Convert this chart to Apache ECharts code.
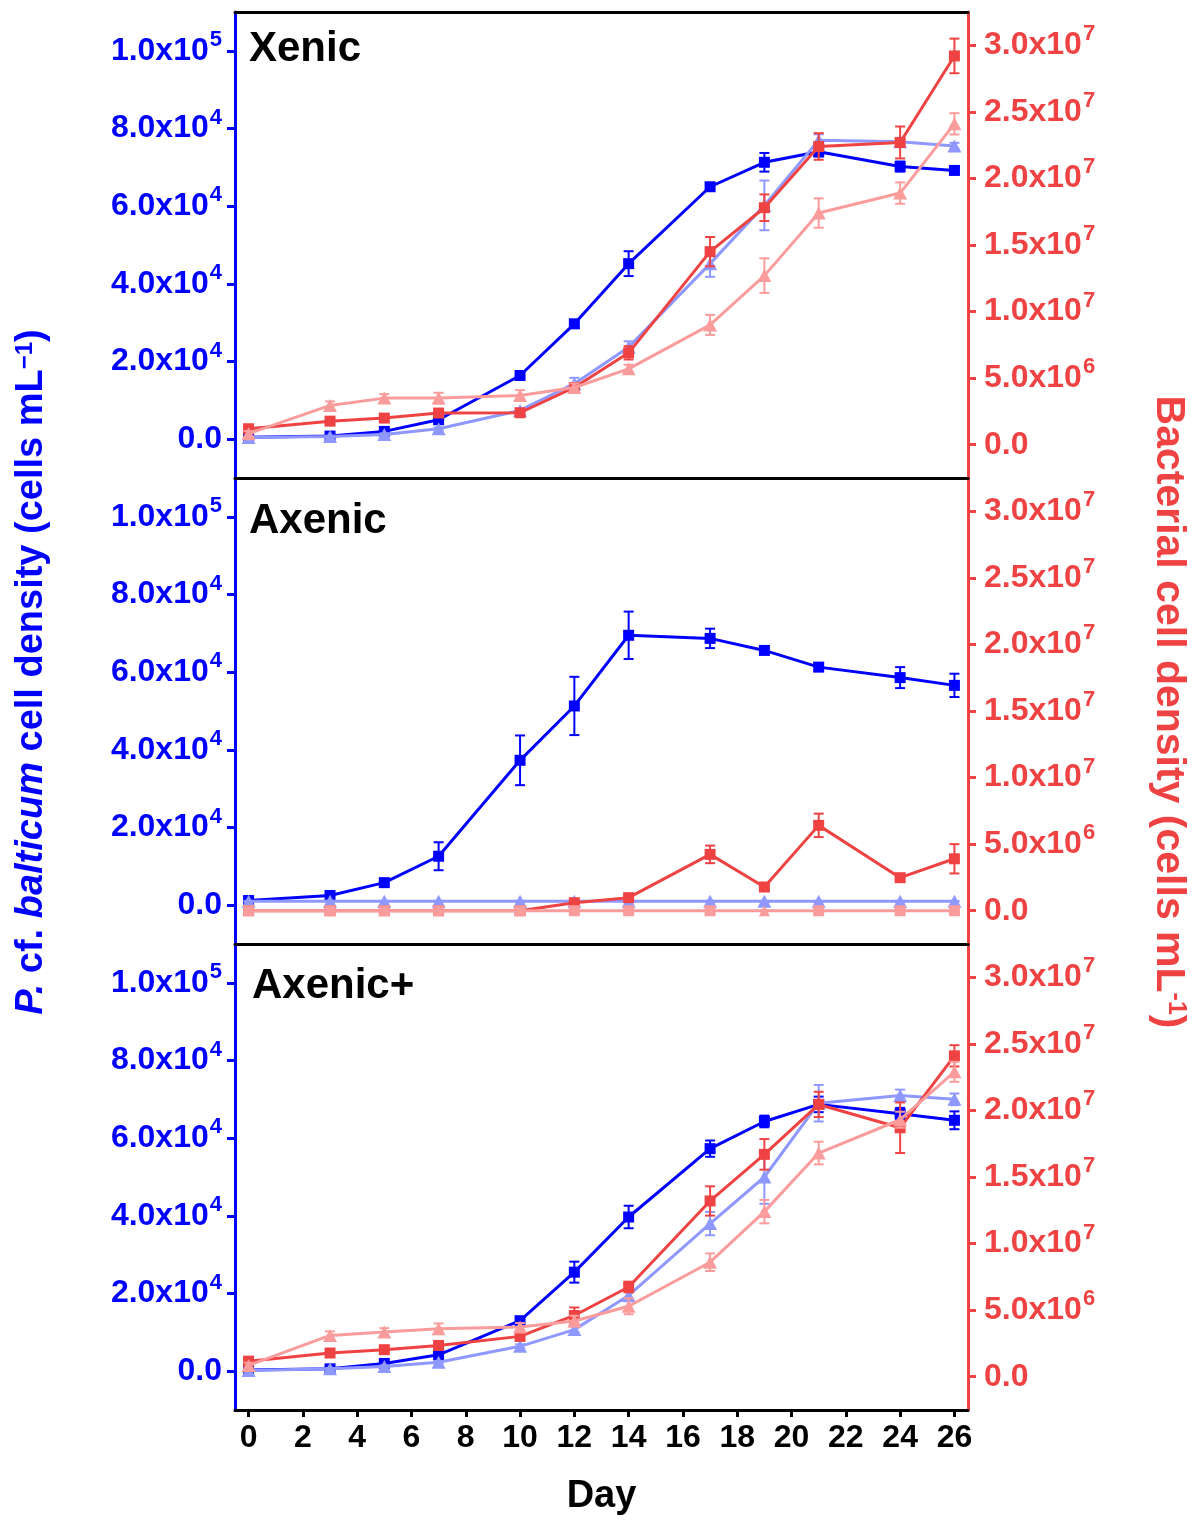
<!DOCTYPE html>
<html>
<head>
<meta charset="utf-8">
<script src="https://cdn.jsdelivr.net/npm/echarts@6/dist/echarts.min.js"></script>
<style>
html,body{margin:0;padding:0;background:#fff;}
#chart{width:1197px;height:1524px;}
</style>
</head>
<body>
<div id="chart"></div>
<script>
// ---------- data ----------
const days = [0, 3, 5, 7, 10, 12, 14, 17, 19, 21, 24, 26];
const dayTicks = [0, 2, 4, 6, 8, 10, 12, 14, 16, 18, 20, 22, 24, 26];
const algaeTicks = [0, 20000, 40000, 60000, 80000, 100000];
const bactTicks = [0, 5e6, 1e7, 1.5e7, 2e7, 2.5e7, 3e7];
const panelNames = ['Xenic', 'Axenic', 'Axenic+'];

// Xenic
const xenicAlgaeSq = [500, 800, 2000, 5000, 16400, 29700, 45200, 65000, 71300, 74000, 70200, 69200];
const xenicAlgaeSqErr = [300, 300, 300, 300, 600, 1000, 3200, 800, 2400, 1200, 1300, 800];
const xenicAlgaeTri = [400, 700, 1200, 2700, 7400, 14300, 23700, 45200, 60200, 77000, 76600, 75500];
const xenicAlgaeTriErr = [200, 200, 300, 300, 500, 1500, 1500, 3400, 6400, 1500, 1000, 800];
const xenicBactSq = [1.2e6, 1.77e6, 2.0e6, 2.38e6, 2.4e6, 4.3e6, 6.9e6, 1.45e7, 1.78e7, 2.24e7, 2.27e7, 2.92e7];
const xenicBactSqErr = [2e5, 1e5, 1.5e5, 2e5, 2e5, 3e5, 5e5, 1.1e6, 1.0e6, 1.0e6, 1.2e6, 1.3e6];
const xenicBactTri = [0.83e6, 2.95e6, 3.5e6, 3.5e6, 3.7e6, 4.3e6, 5.7e6, 9.0e6, 1.27e7, 1.74e7, 1.89e7, 2.41e7];
const xenicBactTriErr = [2e5, 3e5, 3e5, 4e5, 4e5, 3e5, 3e5, 7.5e5, 1.3e6, 1.1e6, 8e5, 8e5];

// Axenic
const axenicAlgaeSq = [1200, 2500, 5800, 12600, 37300, 51300, 69500, 68700, 65600, 61300, 58600, 56600];
const axenicAlgaeSqErr = [300, 400, 500, 3600, 6400, 7500, 6100, 2500, 700, 1000, 2700, 3000];
const axenicAlgaeTri = [1000, 1000, 1000, 1000, 1000, 1000, 1000, 1000, 1000, 1000, 1000, 1000];
const axenicAlgaeTriErr = [100, 100, 100, 100, 100, 100, 100, 100, 100, 100, 100, 100];
const axenicBactSq = [0, 0, 0, 0, 0, 0.6e6, 0.98e6, 4.23e6, 1.78e6, 6.41e6, 2.48e6, 3.9e6];
const axenicBactSqErr = [0, 0, 0, 0, 0, 2e5, 2e5, 6.6e5, 2e5, 8.8e5, 2e5, 1.1e6];
const axenicBactTri = [0, 0, 0, 0, 0, 0, 0, 0, 0, 0, 0, 0];
const axenicBactTriErr = [0, 0, 0, 0, 0, 0, 0, 0, 0, 0, 0, 0];

// Axenic+
const plusAlgaeSq = [300, 600, 2000, 4200, 13000, 25500, 39700, 57300, 64300, 68700, 66300, 64600];
const plusAlgaeSqErr = [200, 200, 300, 400, 800, 2700, 2900, 2100, 1500, 2000, 1500, 2300];
const plusAlgaeTri = [200, 600, 1200, 2300, 6400, 10700, 19500, 38000, 50000, 69000, 71000, 70000];
const plusAlgaeTriErr = [200, 200, 300, 300, 500, 800, 1500, 3000, 6900, 4700, 1500, 1500];
const plusBactSq = [1.17e6, 1.78e6, 2.03e6, 2.35e6, 3.03e6, 4.6e6, 6.74e6, 1.32e7, 1.67e7, 2.045e7, 1.87e7, 2.41e7];
const plusBactSqErr = [2e5, 2e5, 2e5, 2e5, 3e5, 6e5, 4e5, 1.1e6, 1.15e6, 9.5e5, 1.9e6, 8e5];
const plusBactTri = [0.85e6, 3.1e6, 3.35e6, 3.6e6, 3.73e6, 4.18e6, 5.29e6, 8.6e6, 1.24e7, 1.68e7, 1.93e7, 2.29e7];
const plusBactTriErr = [2e5, 3e5, 3e5, 4e5, 3e5, 4e5, 6e5, 6.6e5, 8.8e5, 8.5e5, 6e5, 7.5e5];

// ---------- styling ----------
const BLUE = '#0000ff', LBLUE = '#8e98ff', RED = '#ef4343', PINK = '#fa9c9c';
const FONT = "Arial, 'Liberation Sans', Helvetica, sans-serif";

const panels = [
  {algaeSq: xenicAlgaeSq, algaeSqErr: xenicAlgaeSqErr, algaeTri: xenicAlgaeTri, algaeTriErr: xenicAlgaeTriErr,
   bactSq: xenicBactSq, bactSqErr: xenicBactSqErr, bactTri: xenicBactTri, bactTriErr: xenicBactTriErr},
  {algaeSq: axenicAlgaeSq, algaeSqErr: axenicAlgaeSqErr, algaeTri: axenicAlgaeTri, algaeTriErr: axenicAlgaeTriErr,
   bactSq: axenicBactSq, bactSqErr: axenicBactSqErr, bactTri: axenicBactTri, bactTriErr: axenicBactTriErr},
  {algaeSq: plusAlgaeSq, algaeSqErr: plusAlgaeSqErr, algaeTri: plusAlgaeTri, algaeTriErr: plusAlgaeTriErr,
   bactSq: plusBactSq, bactSqErr: plusBactSqErr, bactTri: plusBactTri, bactTriErr: plusBactTriErr}
];

const gridTops = [12, 478, 944];
const gridH = 466;
const titleOffsets = [16, 22, 21];

function sciFmt(v) {
  if (v === 0) return '{b|0.0}';
  const e = Math.floor(Math.log10(v) + 1e-9);
  const m = (v / Math.pow(10, e)).toFixed(1);
  return '{b|' + m + 'x10}{s|' + e + '}';
}
function richFor(color) {
  return {
    b: {fontSize: 32, fontWeight: 'bold', color: color, fontFamily: FONT, lineHeight: 44},
    s: {fontSize: 22, fontWeight: 'bold', color: color, fontFamily: FONT, verticalAlign: 'top', lineHeight: 22, padding: [0, 0, 0, 1]}
  };
}

const grids = [], xAxes = [], yAxes = [], series = [], titles = [];

function errRender(params, api) {
  const x = api.value(0), lo = api.value(1), hi = api.value(2);
  const p1 = api.coord([x, lo]), p2 = api.coord([x, hi]);
  const w = 5;
  const style = {stroke: api.visual('color'), lineWidth: 2};
  return {type: 'group', children: [
    {type: 'line', shape: {x1: p1[0], y1: p1[1], x2: p2[0], y2: p2[1]}, style: style},
    {type: 'line', shape: {x1: p1[0] - w, y1: p1[1], x2: p1[0] + w, y2: p1[1]}, style: style},
    {type: 'line', shape: {x1: p2[0] - w, y1: p2[1], x2: p2[0] + w, y2: p2[1]}, style: style}
  ]};
}

panels.forEach((p, g) => {
  grids.push({left: 235, right: 229, top: gridTops[g], height: gridH, containLabel: false});
  const last = g === 2;
  xAxes.push({
    type: 'value', gridIndex: g, min: -0.5, max: 26.5, position: 'bottom',
    axisLine: {show: true, onZero: false, lineStyle: {color: '#000', width: 3}},
    axisTick: {show: last, inside: false, length: 7, lineStyle: {color: '#000', width: 3}, customValues: dayTicks},
    axisLabel: {show: last, customValues: dayTicks, color: '#000', fontSize: 32, fontWeight: 'bold', fontFamily: FONT, margin: 12},
    splitLine: {show: false},
    name: last ? 'Day' : '', nameLocation: 'middle', nameGap: 68,
    nameTextStyle: {fontSize: 38, fontWeight: 'bold', color: '#000', fontFamily: FONT}
  });
  yAxes.push({
    type: 'value', gridIndex: g, min: -10000, max: 110000, position: 'left',
    axisLine: {show: true, onZero: false, lineStyle: {color: BLUE, width: 3}},
    axisTick: {show: true, inside: false, length: 8, lineStyle: {color: BLUE, width: 3}, customValues: algaeTicks},
    axisLabel: {customValues: algaeTicks, formatter: sciFmt, rich: richFor(BLUE), margin: 13, align: 'right'},
    splitLine: {show: false}
  });
  yAxes.push({
    type: 'value', gridIndex: g, min: -2.5e6, max: 3.25e7, position: 'right',
    axisLine: {show: true, onZero: false, lineStyle: {color: RED, width: 3}},
    axisTick: {show: true, inside: false, length: 8, lineStyle: {color: RED, width: 3}, customValues: bactTicks},
    axisLabel: {customValues: bactTicks, formatter: sciFmt, rich: richFor(RED), margin: 16, align: 'left'},
    splitLine: {show: false}
  });
  titles.push({text: panelNames[g], left: g === 2 ? 252 : 249, top: gridTops[g] + titleOffsets[g], padding: 0,
    textStyle: {fontSize: 42, fontWeight: 'bold', color: '#000', fontFamily: FONT}});

  const la = 2 * g, ra = 2 * g + 1;
  const defs = [
    {vals: p.algaeSq, errs: p.algaeSqErr, y: la, color: BLUE, symbol: 'rect', size: 11},
    {vals: p.algaeTri, errs: p.algaeTriErr, y: la, color: LBLUE, symbol: 'triangle', size: [14, 13]},
    {vals: p.bactSq, errs: p.bactSqErr, y: ra, color: RED, symbol: 'rect', size: 11},
    {vals: p.bactTri, errs: p.bactTriErr, y: ra, color: PINK,
     symbol: g === 1 ? function (v, prm) { return prm.dataIndex === 8 ? 'triangle' : 'rect'; } : 'triangle',
     size: g === 1 ? 11 : [14, 13]}
  ];
  defs.forEach((d, k) => {
    series.push({
      type: 'custom', coordinateSystem: 'cartesian2d', xAxisIndex: g, yAxisIndex: d.y,
      renderItem: errRender, itemStyle: {color: d.color}, z: 2 + k * 2, silent: true,
      encode: {x: 0, y: [1, 2]},
      data: days.map((x, i) => [x, d.vals[i] - d.errs[i], d.vals[i] + d.errs[i]])
    });
    series.push({
      type: 'line', xAxisIndex: g, yAxisIndex: d.y, z: 3 + k * 2,
      symbol: d.symbol, symbolSize: d.size, showSymbol: true,
      itemStyle: {color: d.color}, lineStyle: {color: d.color, width: 3},
      data: days.map((x, i) => [x, d.vals[i]])
    });
  });
});

// top frame line of first panel
xAxes.push({
  type: 'value', gridIndex: 0, min: -0.5, max: 26.5, position: 'top',
  axisLine: {show: true, onZero: false, lineStyle: {color: '#000', width: 3}},
  axisTick: {show: false}, axisLabel: {show: false}, splitLine: {show: false}
});

const option = {
  animation: false,
  backgroundColor: '#fff',
  title: titles,
  grid: grids,
  xAxis: xAxes,
  yAxis: yAxes,
  series: series,
  graphic: [
    {type: 'text', x: 32, y: 672, rotation: Math.PI / 2,
     style: {text: '{i|P.} cf. {i|balticum} cell density (cells mL{s|\u22121})', align: 'center', verticalAlign: 'middle',
       fill: BLUE, fontSize: 38, fontWeight: 'bold', fontFamily: FONT,
       rich: {
         i: {fontStyle: 'italic', fontWeight: 'bold', fontSize: 38, fill: BLUE, color: BLUE, fontFamily: FONT},
         s: {fontWeight: 'bold', fontSize: 24, fill: BLUE, color: BLUE, fontFamily: FONT, verticalAlign: 'top'}
       }}},
    {type: 'text', x: 1168, y: 712, rotation: -Math.PI / 2,
     style: {text: 'Bacterial cell density (cells mL{s|-1})', align: 'center', verticalAlign: 'middle',
       fill: RED, fontSize: 41, fontWeight: 'bold', fontFamily: FONT,
       rich: {
         s: {fontWeight: 'bold', fontSize: 25, fill: RED, color: RED, fontFamily: FONT, verticalAlign: 'top'}
       }}}
  ]
};

const chart = echarts.init(document.getElementById('chart'), null, {renderer: 'canvas'});
chart.setOption(option);
</script>
</body>
</html>
